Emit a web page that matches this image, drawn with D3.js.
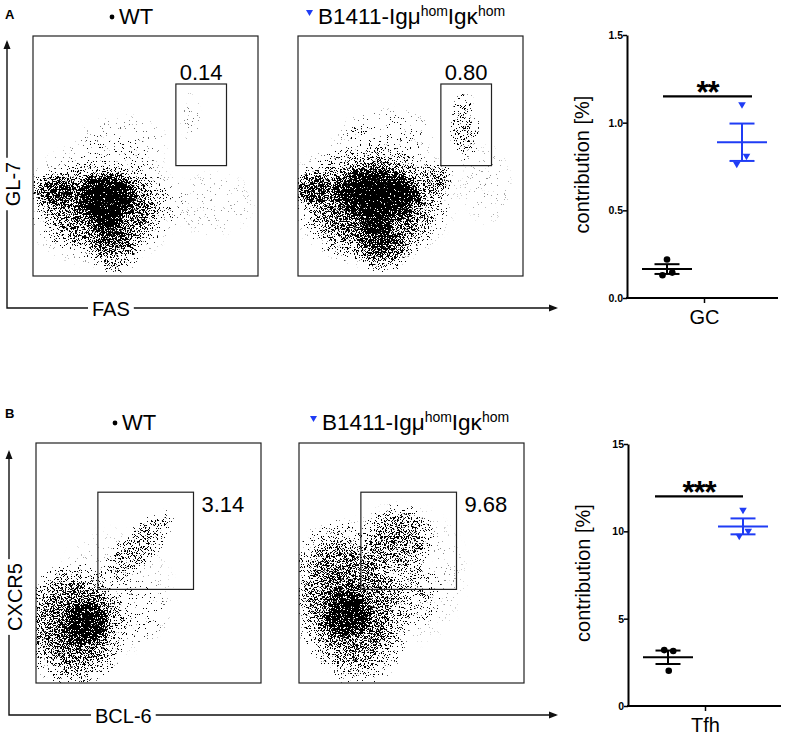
<!DOCTYPE html>
<html>
<head>
<meta charset="utf-8">
<script src="https://cdn.jsdelivr.net/npm/d3@7"></script>
<style>
  body { margin: 0; background: #fff; }
  svg { display: block; font-family: "Liberation Sans", Arial, sans-serif; }
</style>
</head>
<body>
<script>
// ---- data ----
const groups = ["WT", "B1411"];
const gateLabels = ["0.14", "0.80", "3.14", "9.68"];
const gcWT = [0.22, 0.13, 0.145];
const gcB1411 = [1.10, 0.805, 0.76];
const tfhWT = [3.2, 3.15, 2.02];
const tfhB1411 = [11.18, 9.98, 9.69];
const gcTicks = [0, 0.5, 1.0, 1.5];
const tfhTicks = [0, 5, 10, 15];
// small horizontal scatter of the three mice (in group-band units)
const jitterWT = [0, -0.06, 0.07];
const jitterB = [0, 0.06, -0.07];
const jitterWT2 = [-0.05, 0.07, 0.01];
const jitterB2 = [0, 0.07, -0.05];

// flow cytometry clouds: [x, y, rx, ry, angle, density] in axis units 0-100
const cloudA_WT = [
  [30, 30, 40, 30, 0, 0.12], [31, 28, 32, 21, 0, 0.6], [9, 36, 11, 8, 0, 0.6],
  [36, 11, 12, 11, 0, 0.45], [33, 33, 15, 11, -10, 1.0], [32, 31, 12, 9, -10, 0.85],
  [33, 24, 7, 8, 0, 0.9], [80, 30, 25, 18, 0, 0.05], [40, 56, 25, 14, 0, 0.07],
  [70, 66, 6, 14, 0, 0.06]
];
const cloudA_B = [
  [33, 32, 42, 32, 0, 0.12], [33, 30, 34, 26, 0, 0.65], [6, 37, 9, 9, 0, 0.6],
  [38, 11, 13, 10, 0, 0.5], [35, 34, 21, 12, -5, 1.0], [36, 34, 17, 10, -5, 0.85],
  [35, 22, 8, 7, 0, 0.95], [62, 40, 8, 8, 0, 0.4], [74, 62, 7, 16, 0, 0.35],
  [84, 38, 15, 22, 0, 0.05], [40, 60, 25, 12, 0, 0.09]
];
const cloudB_WT = [
  [17, 24, 25, 27, 0, 0.65], [22, 25, 11, 11, 0, 0.85], [45, 56, 24, 8, 47, 0.38],
  [45, 30, 15, 15, 0, 0.08], [35, 38, 35, 35, 0, 0.05]
];
const cloudB_B = [
  [22, 33, 26, 37, 15, 0.65], [21, 28, 12, 11, 0, 0.8], [44, 60, 17, 15, 0, 0.52],
  [50, 38, 14, 16, 0, 0.25], [45, 45, 38, 38, 0, 0.06]
];
// gates: [x0, x1, y0, y1] in axis units
const gateA = [63.5, 86, 46, 80];
const gateB = [27.5, 70, 39, 79.5];

const W = 785, H = 738;
const blue = "#1f3cf5";
const svg = d3.select("body").append("svg").attr("width", W).attr("height", H);
const defs = svg.append("defs");

// stipple filter: thresholds the blob density against a fine noise field
const f = defs.append("filter").attr("id", "stip")
  .attr("filterUnits", "userSpaceOnUse").attr("x", 0).attr("y", 0).attr("width", W).attr("height", H)
  .attr("color-interpolation-filters", "sRGB");
f.append("feTurbulence").attr("type", "fractalNoise").attr("baseFrequency", 2.7)
  .attr("numOctaves", 2).attr("seed", 11).attr("result", "noise");
f.append("feColorMatrix").attr("in", "noise").attr("type", "matrix")
  .attr("values", "0 0 0 0 0  0 0 0 0 0  0 0 0 0 0  2.2 0 0 0 -0.6").attr("result", "n2");
f.append("feComposite").attr("in", "SourceGraphic").attr("in2", "n2").attr("operator", "arithmetic")
  .attr("k1", 0).attr("k2", 16).attr("k3", -16).attr("k4", -0.3);

let uid = 0;
function dotPlot(box, cloud, gate) {
  const xs = d3.scaleLinear().domain([0, 100]).range([box[0], box[1]]);
  const ys = d3.scaleLinear().domain([0, 100]).range([box[3], box[2]]);
  const cid = "clip" + (uid++);
  defs.append("clipPath").attr("id", cid).append("rect")
    .attr("x", box[0]).attr("y", box[2]).attr("width", box[1] - box[0]).attr("height", box[3] - box[2]);
  const g = svg.append("g").attr("clip-path", `url(#${cid})`)
    .append("g").attr("filter", "url(#stip)");
  g.selectAll("ellipse").data(cloud).join("ellipse")
    .attr("cx", d => xs(d[0])).attr("cy", d => ys(d[1]))
    .attr("rx", d => xs(d[0] + d[2]) - xs(d[0]))
    .attr("ry", d => ys(d[1]) - ys(d[1] + d[3]))
    .attr("transform", d => `rotate(${-d[4]},${xs(d[0])},${ys(d[1])})`)
    .attr("fill", d => {
      const id = "rg" + (uid++);
      const rg = defs.append("radialGradient").attr("id", id);
      rg.append("stop").attr("offset", 0).attr("stop-color", "#000").attr("stop-opacity", d[5]);
      rg.append("stop").attr("offset", 0.6).attr("stop-color", "#000").attr("stop-opacity", d[5] * 0.75);
      rg.append("stop").attr("offset", 1).attr("stop-color", "#000").attr("stop-opacity", 0);
      return `url(#${id})`;
    });
  svg.append("rect").attr("x", box[0]).attr("y", box[2])
    .attr("width", box[1] - box[0]).attr("height", box[3] - box[2])
    .attr("fill", "none").attr("stroke", "#222").attr("stroke-width", 1.2);
  svg.append("rect").attr("x", xs(gate[0])).attr("y", ys(gate[3]))
    .attr("width", xs(gate[1]) - xs(gate[0])).attr("height", ys(gate[2]) - ys(gate[3]))
    .attr("fill", "none").attr("stroke", "#222").attr("stroke-width", 1.2);
  return { xs, ys };
}

function header(xWT, xB, y) {
  svg.append("circle").attr("cx", xWT).attr("cy", y - 7).attr("r", 2.4).attr("fill", "#000");
  svg.append("text").attr("x", xWT + 7).attr("y", y).attr("font-size", 22).text("WT");
  svg.append("path").attr("d", `M${xB - 12},${y - 14}h7l-3.5,6z`).attr("fill", blue);
  const t = svg.append("text").attr("x", xB).attr("y", y).attr("font-size", 22.5);
  t.append("tspan").text("B1411-Igμ");
  t.append("tspan").attr("font-size", 14).attr("dy", -8).text("hom");
  t.append("tspan").attr("dy", 8).text("Igκ");
  t.append("tspan").attr("font-size", 14).attr("dy", -8).text("hom");
}

function arrows(x, yTop, yAxis, xEnd, yLabel, yLabelY, xLabel, xLabelX) {
  const a = svg.append("g").attr("stroke", "#111").attr("stroke-width", 1.4).attr("fill", "none");
  a.append("path").attr("d", `M${x},${yTop + 2}V${yAxis}H${xEnd - 2}`);
  svg.append("path").attr("d", `M${x},${yTop}l-3.5,9h7z`).attr("fill", "#111");
  svg.append("path").attr("d", `M${xEnd},${yAxis}l-9,-3.5v7z`).attr("fill", "#111");
  const gap = svg.append("rect").attr("fill", "#fff");
  const yl = svg.append("text").attr("font-size", 20).attr("text-anchor", "middle")
    .attr("transform", `translate(${x + 13},${yLabelY}) rotate(-90)`).text(yLabel);
  const bb = yl.node().getBBox();
  gap.attr("x", x - 3).attr("y", yLabelY - bb.width / 2 - 4).attr("width", 6).attr("height", bb.width + 8);
  const gap2 = svg.append("rect").attr("fill", "#fff");
  const xl = svg.append("text").attr("font-size", 20).attr("x", xLabelX).attr("y", yAxis + 8).text(xLabel);
  const bx = xl.node().getBBox();
  gap2.attr("x", bx.x - 4).attr("y", yAxis - 3).attr("width", bx.width + 8).attr("height", 6);
}

function gateText(p, gate, txt, mode) {
  if (mode === "top") {
    svg.append("text").attr("x", p.xs((gate[0] + gate[1]) / 2)).attr("y", p.ys(gate[3]) - 4)
      .attr("text-anchor", "middle").attr("font-size", 22).text(txt);
  } else {
    svg.append("text").attr("x", p.xs(gate[1]) + 8).attr("y", p.ys(gate[3]) + 20)
      .attr("font-size", 22).text(txt);
  }
}

// ---- panel A ----
svg.append("text").attr("x", 5).attr("y", 19).attr("font-size", 13).attr("font-weight", "bold").text("A");
header(112, 318, 24);
const pA1 = dotPlot([33, 258, 36, 276], cloudA_WT, gateA);
const pA2 = dotPlot([298, 523, 36, 276], cloudA_B, gateA);
gateText(pA1, gateA, gateLabels[0], "top");
gateText(pA2, gateA, gateLabels[1], "top");
arrows(7, 40, 308, 558, "GL-7", 184, "FAS", 92);

// ---- panel B ----
svg.append("text").attr("x", 5).attr("y", 418).attr("font-size", 13).attr("font-weight", "bold").text("B");
header(115, 322, 430);
const pB1 = dotPlot([36, 261, 443, 683], cloudB_WT, gateB);
const pB2 = dotPlot([299, 524, 443, 683], cloudB_B, gateB);
gateText(pB1, gateB, gateLabels[2], "side");
gateText(pB2, gateB, gateLabels[3], "side");
arrows(9, 450, 715, 558, "CXCR5", 597, "BCL-6", 95);

// ---- mean ± SEM dot plots ----
function sem(v) { return d3.deviation(v) / Math.sqrt(v.length); }

function statPlot(o) {
  const y = d3.scaleLinear().domain(o.domain).range([o.y1, o.y0]);
  const x = d3.scalePoint().domain(groups).range([o.cx[0], o.cx[1]]);
  const band = o.cx[1] - o.cx[0];
  const g = svg.append("g");
  const ax = g.append("g").attr("transform", `translate(${o.x0},0)`)
    .call(d3.axisLeft(y).tickValues(o.ticks).tickFormat(o.fmt).tickSize(4).tickSizeOuter(0));
  ax.select(".domain").attr("stroke-width", 2);
  ax.selectAll(".tick line").attr("stroke-width", 1.5);
  ax.selectAll(".tick text").attr("font-size", 10.5).attr("font-weight", "bold")
    .attr("font-family", "Liberation Sans, Arial, sans-serif").attr("x", -4);
  g.append("line").attr("x1", o.x0 - 1).attr("x2", o.x1).attr("y1", o.y1).attr("y2", o.y1)
    .attr("stroke", "#000").attr("stroke-width", 2);
  const mid = (o.cx[0] + o.cx[1]) / 2;
  g.append("line").attr("x1", mid).attr("x2", mid).attr("y1", o.y1).attr("y2", o.y1 + 5)
    .attr("stroke", "#000").attr("stroke-width", 1.5);
  g.append("text").attr("x", mid).attr("y", o.y1 + 26).attr("text-anchor", "middle")
    .attr("font-size", 20).text(o.cat);
  g.append("text").attr("font-size", 20).attr("text-anchor", "middle")
    .attr("transform", `translate(${o.x0 - 38},${(o.y0 + o.y1) / 2 - 2}) rotate(-90)`)
    .text("contribution [%]");

  const sets = [[groups[0], o.wt, o.jw, "#000"], [groups[1], o.b, o.jb, blue]];
  sets.forEach(([grp, vals, jit, col]) => {
    const cx = x(grp), m = d3.mean(vals), s = sem(vals);
    const gg = g.append("g").attr("stroke", col).attr("stroke-width", 2);
    gg.append("line").attr("x1", cx - 25).attr("x2", cx + 25).attr("y1", y(m)).attr("y2", y(m));
    gg.append("line").attr("x1", cx - 12.5).attr("x2", cx + 12.5).attr("y1", y(m + s)).attr("y2", y(m + s));
    gg.append("line").attr("x1", cx - 12.5).attr("x2", cx + 12.5).attr("y1", y(m - s)).attr("y2", y(m - s));
    gg.append("line").attr("x1", cx).attr("x2", cx).attr("y1", y(m + s)).attr("y2", y(m - s));
    vals.forEach((v, i) => {
      const px = cx + jit[i] * band, py = y(v);
      if (grp === "WT") {
        g.append("circle").attr("cx", px).attr("cy", py).attr("r", 3.3).attr("fill", col);
      } else {
        g.append("path").attr("d", `M${px - 3.8},${py - 3}h7.6l-3.8,6.5z`).attr("fill", col);
      }
    });
  });
  // significance bar
  g.append("line").attr("x1", o.sig[0]).attr("x2", o.sig[1]).attr("y1", y(o.sigY)).attr("y2", y(o.sigY))
    .attr("stroke", "#000").attr("stroke-width", 2.2);
  g.append("text").attr("x", (o.sig[0] + o.sig[1]) / 2).attr("y", y(o.sigY) + 7)
    .attr("text-anchor", "middle").attr("font-size", 31).attr("font-weight", "bold")
    .attr("letter-spacing", -1).text(o.star);
}

statPlot({ domain: [0, 1.5], y0: 35, y1: 298, x0: 627, x1: 778, cx: [667, 742],
  ticks: gcTicks, fmt: d3.format(".1f"), wt: gcWT, b: gcB1411, jw: jitterWT, jb: jitterB,
  cat: "GC", sig: [663, 752], sigY: 1.15, star: "**" });
statPlot({ domain: [0, 15], y0: 444, y1: 706, x0: 628, x1: 781, cx: [668, 743],
  ticks: tfhTicks, fmt: d3.format("d"), wt: tfhWT, b: tfhB1411, jw: jitterWT2, jb: jitterB2,
  cat: "Tfh", sig: [655, 743], sigY: 12.0, star: "***" });
</script>
</body>
</html>
